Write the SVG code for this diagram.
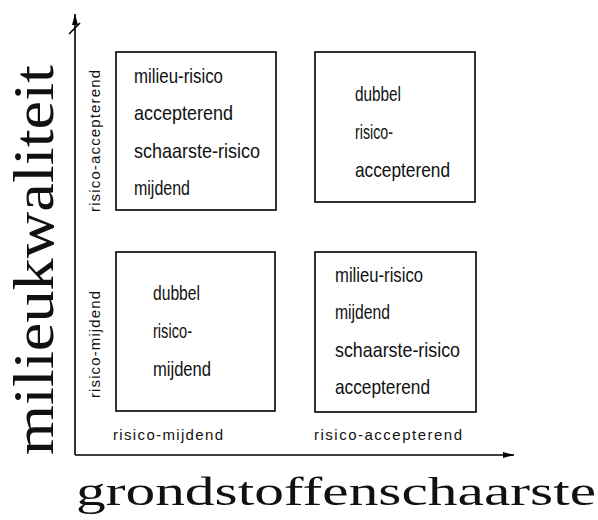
<svg xmlns="http://www.w3.org/2000/svg" width="598" height="520" viewBox="0 0 598 520">
<style>
.box{fill:none;stroke:#000;stroke-width:1.6}
.t{font-family:"Liberation Sans",Arial,sans-serif;font-size:21px;fill:#111}
.s{font-family:"Liberation Sans",Arial,sans-serif;font-size:15px;fill:#111}
.big{font-family:"Liberation Serif","Times New Roman",serif;fill:#111}
.ax{stroke:#000;stroke-width:1.6;fill:none}
</style>
<defs>
<marker id="arr" markerWidth="12" markerHeight="8" refX="11" refY="4" orient="auto" markerUnits="userSpaceOnUse">
<path d="M0,1 L11,4 L0,7 Z" fill="#000"/>
</marker>
</defs>
<rect width="598" height="520" fill="#fff"/>
<g id="axes">
<line class="ax" x1="75" y1="455" x2="75" y2="14" marker-end="url(#arr)"/>
<line class="ax" x1="75" y1="455" x2="514" y2="455" marker-end="url(#arr)"/>
<line class="ax" x1="69" y1="34" x2="80" y2="23" stroke-width="1.2"/>
</g>
<g id="axis-labels">
<text class="big" font-size="56" transform="translate(53,455) rotate(-90)" textLength="390" lengthAdjust="spacingAndGlyphs">milieukwaliteit</text>
<text class="big" font-size="40" x="76" y="505" textLength="520" lengthAdjust="spacingAndGlyphs">grondstoffenschaarste</text>
</g>
<g id="cat-labels">
<text class="s" x="113" y="440" textLength="110" lengthAdjust="spacing">risico-mijdend</text>
<text class="s" x="314" y="440" textLength="148" lengthAdjust="spacing">risico-accepterend</text>
<text class="s" transform="translate(100,212) rotate(-90)" textLength="142" lengthAdjust="spacing">risico-accepterend</text>
<text class="s" transform="translate(100,398) rotate(-90)" textLength="107" lengthAdjust="spacing">risico-mijdend</text>
</g>
<g id="box-tl">
<rect class="box" x="116" y="52" width="160" height="158"/>
<text class="t" x="134" y="83" textLength="89" lengthAdjust="spacingAndGlyphs">milieu-risico</text>
<text class="t" x="134" y="120" textLength="99" lengthAdjust="spacingAndGlyphs">accepterend</text>
<text class="t" x="134" y="158" textLength="126" lengthAdjust="spacingAndGlyphs">schaarste-risico</text>
<text class="t" x="134" y="195" textLength="56" lengthAdjust="spacingAndGlyphs">mijdend</text>
</g>
<g id="box-tr">
<rect class="box" x="315" y="52" width="160" height="150"/>
<text class="t" x="355" y="101" textLength="46" lengthAdjust="spacingAndGlyphs">dubbel</text>
<text class="t" x="355" y="139" textLength="38" lengthAdjust="spacingAndGlyphs">risico-</text>
<text class="t" x="355" y="177" textLength="95" lengthAdjust="spacingAndGlyphs">accepterend</text>
</g>
<g id="box-bl">
<rect class="box" x="116" y="252" width="159" height="159"/>
<text class="t" x="153" y="300" textLength="47" lengthAdjust="spacingAndGlyphs">dubbel</text>
<text class="t" x="153" y="338" textLength="39" lengthAdjust="spacingAndGlyphs">risico-</text>
<text class="t" x="153" y="376" textLength="58" lengthAdjust="spacingAndGlyphs">mijdend</text>
</g>
<g id="box-br">
<rect class="box" x="315" y="252" width="161" height="160"/>
<text class="t" x="335" y="282" textLength="88" lengthAdjust="spacingAndGlyphs">milieu-risico</text>
<text class="t" x="335" y="319" textLength="55" lengthAdjust="spacingAndGlyphs">mijdend</text>
<text class="t" x="335" y="357" textLength="125" lengthAdjust="spacingAndGlyphs">schaarste-risico</text>
<text class="t" x="335" y="394" textLength="95" lengthAdjust="spacingAndGlyphs">accepterend</text>
</g>
</svg>
